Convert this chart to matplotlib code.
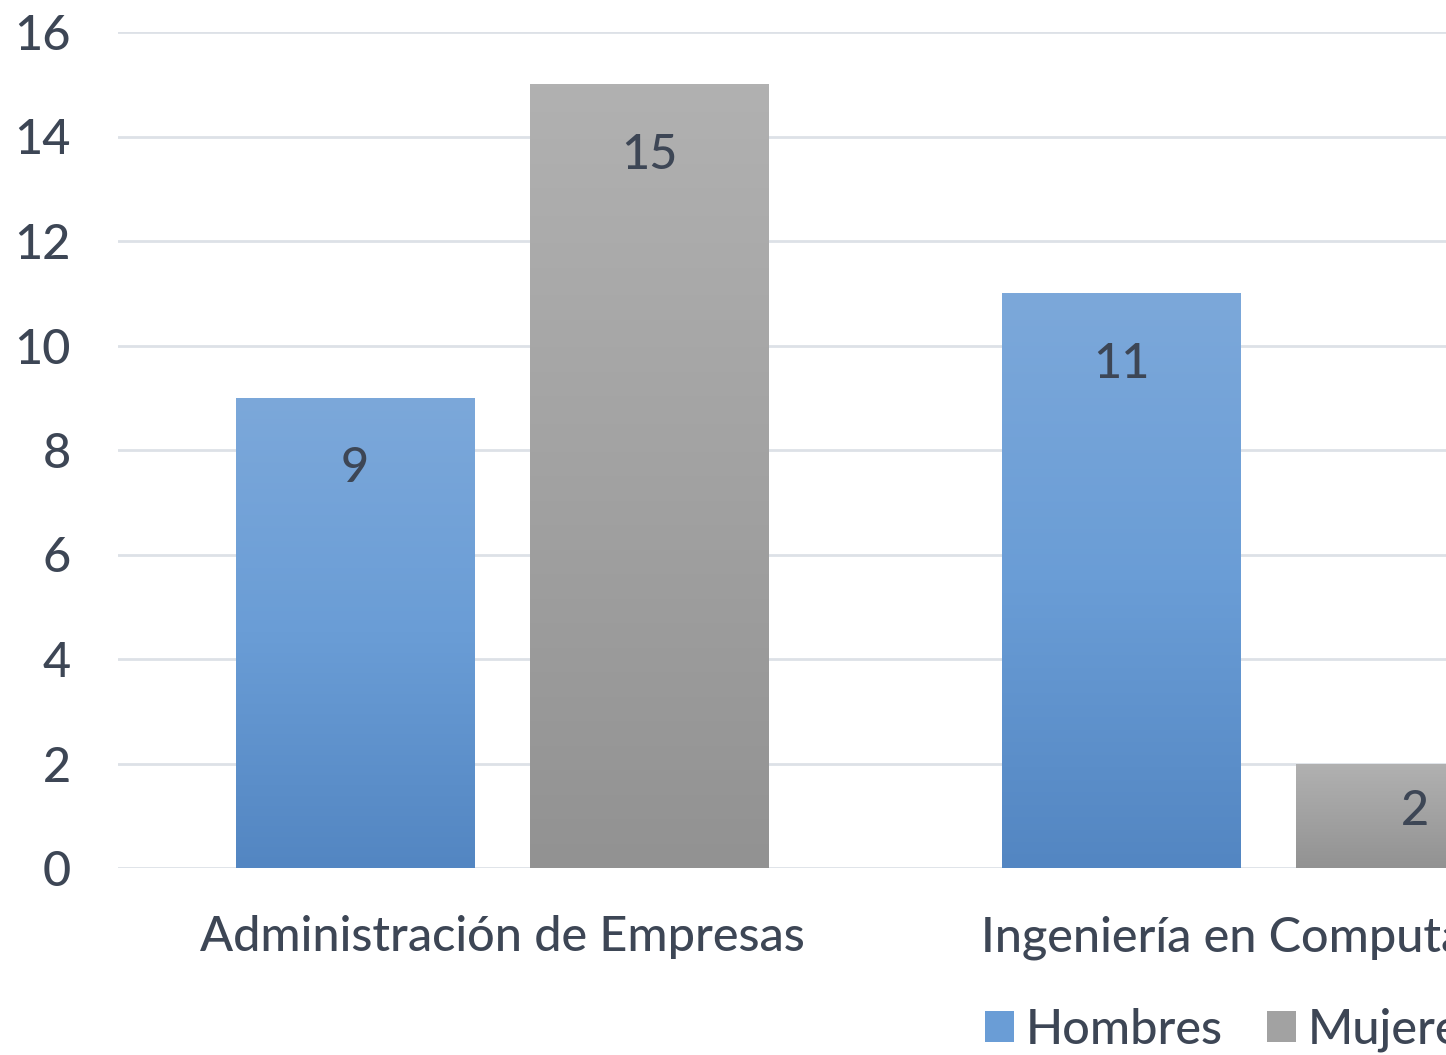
import matplotlib
matplotlib.use('Agg')
import matplotlib.pyplot as plt
import numpy as np
from matplotlib.colors import LinearSegmentedColormap
from matplotlib.patches import Patch

categories = ["Administración de Empresas", "Ingeniería en Computación"]
series_names = ["Hombres", "Mujeres"]
hombres = [9, 11]
mujeres = [15, 2]
y_ticks = [0, 2, 4, 6, 8, 10, 12, 14, 16]

plt.rcParams['font.family'] = ['Lato', 'DejaVu Sans']
plt.rcParams['font.weight'] = 500
text_color = "#3D4655"
grid_color = "#DDE1E7"

# dark bottom -> light top
blue_cmap = LinearSegmentedColormap.from_list("blue", ["#5386C2", "#6A9DD6", "#7CA8DA"])
gray_cmap = LinearSegmentedColormap.from_list("gray", ["#929292", "#A2A2A2", "#B1B1B1"])

fig = plt.figure(figsize=(14.46, 10.55), dpi=100)
ax = fig.add_axes([118 / 1446, 1 - 868 / 1055, 1 - 118 / 1446, (868 - 32) / 1055])

x = np.arange(len(categories))
width = 0.311
offset = 0.192

bars_h = ax.bar(x - offset, hombres, width, color="#6A9DD6", zorder=3)
bars_m = ax.bar(x + offset, mujeres, width, color="#A2A2A2", zorder=3)

grad = np.linspace(0, 1, 256).reshape(-1, 1)
for bars, cmap in [(bars_h, blue_cmap), (bars_m, gray_cmap)]:
    for bar in bars:
        x0, y0 = bar.get_x(), bar.get_y()
        w, h = bar.get_width(), bar.get_height()
        im = ax.imshow(grad, extent=(x0, x0 + w, y0, y0 + h), origin='lower',
                       cmap=cmap, aspect='auto', zorder=3)
        im.set_clip_path(bar)
        bar.set_facecolor('none')

# data labels inside the end of each bar
for bars, vals in [(bars_h, hombres), (bars_m, mujeres)]:
    for bar, v in zip(bars, vals):
        y_lab = max(v - 1.35, v * 0.55)
        ax.text(bar.get_x() + bar.get_width() / 2, y_lab, str(v), ha='center', va='center',
                fontsize=35, color=text_color, zorder=4)

ax.set_xlim(-0.501, 1.232)
ax.set_ylim(0, 16)
ax.set_yticks(y_ticks)
ax.set_xticks(x)
ax.set_xticklabels(categories)
ax.tick_params(axis='both', length=0, labelsize=35, colors=text_color)
ax.tick_params(axis='y', pad=34)
ax.tick_params(axis='x', pad=34)
for s in ax.spines.values():
    s.set_visible(False)
ax.grid(axis='y', color=grid_color, linewidth=2, zorder=0)
ax.set_axisbelow(True)

handles = [Patch(facecolor="#6A9DD6"), Patch(facecolor="#A2A2A2")]
fig.legend(handles, series_names, loc='lower left', bbox_to_anchor=(941 / 1446, -0.039),
           ncol=2, frameon=False, fontsize=35, labelcolor=text_color,
           handlelength=0.6, handleheight=0.6, handletextpad=0.25, columnspacing=0.9)

plt.savefig("out.png", dpi=100)
plt.close(fig)
